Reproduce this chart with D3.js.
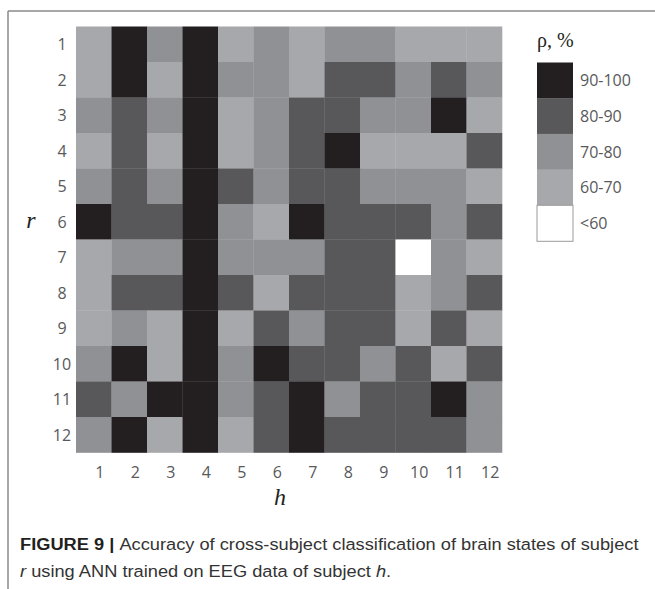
<!DOCTYPE html>
<html>
<head>
<meta charset="utf-8">
<script src="https://cdn.jsdelivr.net/npm/d3@7"></script>
<style>
  body { margin: 0; background: #fff; }
</style>
</head>
<body>
<svg id="chart" width="655" height="589"></svg>
<script>
// subjects h (trained on) and r (classified)
var hLabels = ["1","2","3","4","5","6","7","8","9","10","11","12"];
var rLabels = ["1","2","3","4","5","6","7","8","9","10","11","12"];

// accuracy rho, %, one row per subject r (bin midpoints)
var row1  = [65,95,75,95,65,75,65,75,75,65,65,65];
var row2  = [65,95,65,95,75,75,65,85,85,75,85,75];
var row3  = [75,85,75,95,65,75,85,85,75,75,95,65];
var row4  = [65,85,65,95,65,75,85,95,65,65,65,85];
var row5  = [75,85,75,95,85,75,85,85,75,75,75,65];
var row6  = [95,85,85,95,75,65,95,85,85,85,75,85];
var row7  = [65,75,75,95,75,75,75,85,85,55,75,65];
var row8  = [65,85,85,95,85,65,85,85,85,65,75,85];
var row9  = [65,75,65,95,65,85,75,85,85,65,85,65];
var row10 = [75,95,65,95,75,95,85,85,75,85,65,85];
var row11 = [85,75,95,95,75,85,95,75,85,85,95,75];
var row12 = [75,95,65,95,65,85,95,85,85,85,85,75];
var rows = [row1,row2,row3,row4,row5,row6,row7,row8,row9,row10,row11,row12];

var legendLabels = ["90-100","80-90","70-80","60-70","<60"];
var legendValues = [95,85,75,65,55];

var svg = d3.select("#chart");

var GX = 76, GY = 26.5, GSIZE = 426;

var x = d3.scaleBand().domain(hLabels).range([GX, GX+GSIZE]);
var y = d3.scaleBand().domain(rLabels).range([GY, GY+GSIZE]);
var color = d3.scaleThreshold()
    .domain([60,70,80,90])
    .range(["#ffffff","#a7a8ab","#8f9195","#58585a","#231f20"]);

// frame (top + left only)
svg.append("line").attr("x1",8).attr("y1",11).attr("x2",655).attr("y2",11)
    .attr("stroke","#8a8a8a").attr("stroke-width",1.5);
svg.append("line").attr("x1",8).attr("y1",11).attr("x2",8).attr("y2",589)
    .attr("stroke","#8a8a8a").attr("stroke-width",1.5);

var cells = [];
rows.forEach(function(row,i){
    row.forEach(function(v,j){
        cells.push({r:rLabels[i],h:hLabels[j],v:v});
    });
});

svg.append("g").selectAll("rect")
    .data(cells)
    .enter()
    .append("rect")
    .attr("x",function(d){return x(d.h);})
    .attr("y",function(d){return y(d.r);})
    .attr("width",x.bandwidth()+0.3)
    .attr("height",y.bandwidth()+0.3)
    .attr("fill",function(d){return color(d.v);});

var tickFont = "'Open Sans', 'DejaVu Sans', sans-serif";

// column ticks (h) - sit a little right of the cells in the original
svg.append("g").selectAll("text")
    .data(hLabels)
    .enter()
    .append("text")
    .text(function(d){return d;})
    .attr("x",function(d){return x(d)+x.bandwidth()/2+6;})
    .attr("y",GY+GSIZE+25)
    .attr("text-anchor","middle")
    .attr("font-family",tickFont)
    .attr("font-size",16)
    .attr("fill","#58595b");

// row ticks (r)
svg.append("g").selectAll("text")
    .data(rLabels)
    .enter()
    .append("text")
    .text(function(d){return d;})
    .attr("x",62)
    .attr("y",function(d){return y(d)+y.bandwidth()/2+6;})
    .attr("text-anchor","middle")
    .attr("font-family",tickFont)
    .attr("font-size",16)
    .attr("fill","#58595b");

// axis titles
svg.append("text").text("h")
    .attr("x",280).attr("y",505)
    .attr("text-anchor","middle")
    .attr("font-family","'Liberation Serif', 'DejaVu Serif', serif")
    .attr("font-style","italic")
    .attr("font-size",24)
    .attr("fill","#231f20");
svg.append("text").text("r")
    .attr("x",31).attr("y",y("6")+y.bandwidth()/2+6)
    .attr("text-anchor","middle")
    .attr("font-family","'Liberation Serif', 'DejaVu Serif', serif")
    .attr("font-style","italic")
    .attr("font-size",24)
    .attr("fill","#231f20");

// legend
var LX = 537, LY = 62.5, LW = 36, LH = 35.7;
svg.append("text").text("ρ, %")
    .attr("x",LX).attr("y",47)
    .attr("font-family","'Liberation Serif', 'DejaVu Serif', serif")
    .attr("font-size",20)
    .attr("fill","#231f20");

var leg = svg.append("g").selectAll("g")
    .data(legendValues)
    .enter()
    .append("g");
leg.append("rect")
    .attr("x",LX)
    .attr("y",function(d,i){return LY+i*LH;})
    .attr("width",LW)
    .attr("height",LH+0.3)
    .attr("fill",function(d){return color(d);})
    .attr("stroke",function(d){return d<60 ? "#9a9a9a" : "none";})
    .attr("stroke-width",1);
leg.append("text")
    .text(function(d,i){return legendLabels[i];})
    .attr("x",LX+LW+7)
    .attr("y",function(d,i){return LY+i*LH+LH/2+6;})
    .attr("font-family",tickFont)
    .attr("font-size",16)
    .attr("fill","#58595b");

// caption - condensed face, squeezed so line 1 ends where the original does
var capFont = "'Liberation Sans Narrow', 'Arial Narrow', 'Liberation Sans', sans-serif";
var capX = 20, capW = 619;
var capG = svg.append("g");
var cap1 = capG.append("text")
    .attr("x",0).attr("y",550)
    .attr("font-family",capFont)
    .attr("font-size",17)
    .attr("fill","#333");
cap1.append("tspan").text("FIGURE 9 | ").attr("font-weight","bold").attr("fill","#231f20");
cap1.append("tspan").text("Accuracy of cross-subject classification of brain states of subject");

var cap2 = capG.append("text")
    .attr("x",0).attr("y",577)
    .attr("font-family",capFont)
    .attr("font-size",17)
    .attr("fill","#333");
cap2.append("tspan").text("r").attr("font-style","italic");
cap2.append("tspan").text(" using ANN trained on EEG data of subject ");
cap2.append("tspan").text("h").attr("font-style","italic");
cap2.append("tspan").text(".");

var k = capW / cap1.node().getComputedTextLength();
capG.attr("transform","translate("+capX+",0) scale("+k+",1)");
</script>
</body>
</html>
